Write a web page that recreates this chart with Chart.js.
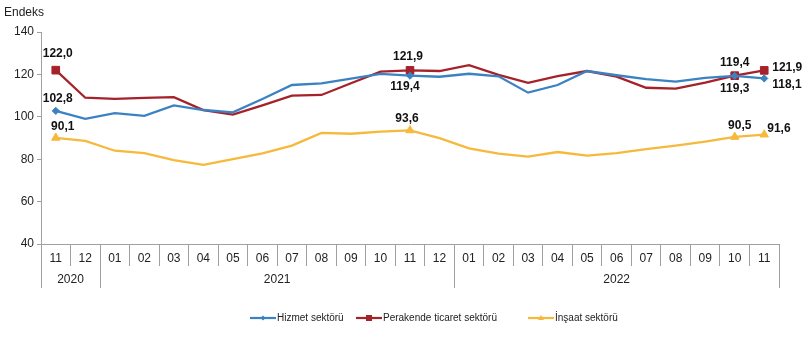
<!DOCTYPE html>
<html><head><meta charset="utf-8">
<script src="https://cdn.jsdelivr.net/npm/chart.js@4.4.0/dist/chart.umd.min.js"></script>
<style>html,body{margin:0;padding:0;background:#fff}#w{width:811px;height:338px;position:relative}</style>
</head><body><div id="w"><canvas id="c" width="811" height="338"></canvas></div>
<script>
const months = ['11','12','01','02','03','04','05','06','07','08','09','10','11','12','01','02','03','04','05','06','07','08','09','10','11'];
const years = [{label:'2020', from:0, to:1},{label:'2021', from:2, to:13},{label:'2022', from:14, to:24}];
const hizmet = [102.8,99.0,101.7,100.4,105.4,103.2,102.1,108.4,115.0,115.8,118.0,120.2,119.4,118.9,120.3,119.1,111.4,115.0,121.6,119.6,117.8,116.6,118.4,119.3,118.1];
const perakende = [122.0,109.0,108.5,108.9,109.3,103.2,101.0,105.4,110.0,110.3,115.8,121.3,121.9,121.6,124.4,119.8,116.0,119.2,121.6,118.9,113.7,113.3,116.1,119.4,121.9];
const insaat = [90.1,88.6,84.0,82.9,79.6,77.3,80.0,82.8,86.4,92.4,92.0,93.0,93.6,89.9,85.1,82.6,81.2,83.4,81.7,82.9,84.8,86.4,88.3,90.5,91.6];
const seriesNames = ['Hizmet sektörü','Perakende ticaret sektörü','İnşaat sektörü'];
const yTicks = [40,60,80,100,120,140];

const COLORS = ['#3B82C3','#A6222A','#F6B93B'];
const SHAPES = ['rectRot','rect','triangle'];
const RADII = [3.6,5.4,4.8];
const marked = [0,12,23,24];
const FONT = '"Liberation Sans", Arial, sans-serif';
const LEGEND_X = [250,356,528];

// label placements: [dataset, index, dx, dy, align]
const labelPos = [
  [1,0,2,-16,'center'],[0,0,2,-12,'center'],[2,0,7,-11,'center'],
  [1,12,-2,-14,'center'],[0,12,-5,11,'center'],[2,12,-3,-12,'center'],
  [1,23,0,-13,'center'],[0,23,0,12.5,'center'],[2,23,5,-11,'center'],
  [1,24,8,-3,'left'],[0,24,8,6,'left'],[2,24,3,-6,'left']
];

const extras = {
  id:'extras',
  afterDatasetsDraw(chart){
    const ctx = chart.ctx, x = chart.scales.x, y = chart.scales.y;
    ctx.save();
    ctx.font = 'bold 12px ' + FONT;
    ctx.fillStyle = '#111';
    ctx.textBaseline = 'middle';
    labelPos.forEach(([d,i,dx,dy,al])=>{
      const v = chart.data.datasets[d].data[i];
      const px = x.getPixelForValue(i), py = y.getPixelForValue(v);
      ctx.textAlign = al;
      ctx.fillText(v.toFixed(1).replace('.',','), px+dx, py+dy);
    });
    ctx.restore();
  },
  afterDraw(chart){
    const ctx = chart.ctx, x = chart.scales.x;
    const bottom = chart.chartArea.bottom;
    const half = (x.getPixelForValue(1)-x.getPixelForValue(0))/2;
    ctx.save();
    ctx.strokeStyle = '#A0A0A0'; ctx.lineWidth = 1;
    const edges = new Set();
    years.forEach(yr=>{ edges.add(yr.from); edges.add(yr.to+1); });
    edges.forEach(e=>{
      const px = Math.round(x.getPixelForValue(e) - half) + 0.5;
      ctx.beginPath(); ctx.moveTo(px, bottom); ctx.lineTo(px, bottom+44); ctx.stroke();
    });
    ctx.fillStyle = '#222'; ctx.font = '12px ' + FONT; ctx.textAlign = 'center'; ctx.textBaseline = 'middle';
    years.forEach(yr=>{
      const cx = (x.getPixelForValue(yr.from)+x.getPixelForValue(yr.to))/2;
      ctx.fillText(yr.label, cx, bottom+36);
    });
    ctx.textAlign = 'left';
    ctx.fillText('Endeks', 4, 13);
    ctx.font = '10px ' + FONT;
    const ly = 318;
    chart.data.datasets.forEach((ds,k)=>{
      const lx = LEGEND_X[k];
      ctx.strokeStyle = COLORS[k]; ctx.lineWidth = 2.2;
      ctx.beginPath(); ctx.moveTo(lx, ly); ctx.lineTo(lx+26, ly); ctx.stroke();
      ctx.fillStyle = COLORS[k];
      const mx = lx+13;
      ctx.beginPath();
      if (k===0){ ctx.moveTo(mx,ly-2.5);ctx.lineTo(mx+2.5,ly);ctx.lineTo(mx,ly+2.5);ctx.lineTo(mx-2.5,ly);ctx.closePath(); }
      else if (k===1){ ctx.rect(mx-3,ly-3,6,6); }
      else { ctx.moveTo(mx,ly-3);ctx.lineTo(mx+3,ly+2);ctx.lineTo(mx-3,ly+2);ctx.closePath(); }
      ctx.fill();
      ctx.fillStyle = '#222';
      ctx.fillText(ds.label, lx+27, ly);
    });
    ctx.restore();
  }
};

const mk = (k, data) => ({
  label: seriesNames[k], data,
  borderColor: COLORS[k], backgroundColor: COLORS[k],
  borderWidth: 2.3, tension: 0,
  pointStyle: SHAPES[k],
  pointRadius: c => marked.includes(c.dataIndex) ? RADII[k] : 0,
  pointHoverRadius: 0, pointBorderWidth: 1,
  pointBorderColor: COLORS[k], pointBackgroundColor: COLORS[k]
});

new Chart(document.getElementById('c'), {
  type:'line',
  data:{ labels: months, datasets:[mk(0,hizmet), mk(1,perakende), mk(2,insaat)] },
  options:{
    responsive:false, animation:false, devicePixelRatio:1,
    layout:{ padding:{top:32, right:32, left:0, bottom:0} },
    plugins:{ legend:{display:false}, tooltip:{enabled:false} },
    scales:{
      x:{
        offset:true,
        grid:{ offset:true, drawOnChartArea:false, drawTicks:true, tickLength:22, color:'#A0A0A0', lineWidth:1 },
        border:{ display:true, color:'#A0A0A0' },
        ticks:{ autoSkip:false, maxRotation:0, minRotation:0, padding:-15, color:'#222', font:{family:FONT, size:12} },
        afterFit(s){ s.height = 94; }
      },
      y:{
        min:40, max:140,
        afterBuildTicks(s){ s.ticks = yTicks.map(v=>({value:v})); },
        grid:{ drawOnChartArea:false, drawTicks:true, tickLength:4, color:'#A0A0A0' },
        border:{ display:true, color:'#A0A0A0' },
        ticks:{ padding:3, color:'#222', font:{family:FONT, size:12} },
        afterFit(s){ s.width = 41; }
      }
    }
  },
  plugins:[extras]
});
</script></body></html>
